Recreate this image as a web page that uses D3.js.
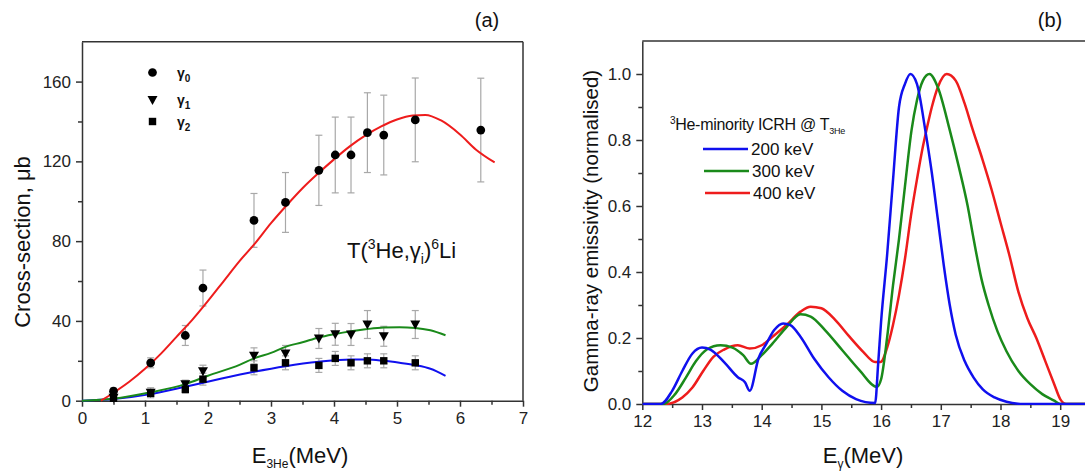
<!DOCTYPE html>
<html>
<head>
<meta charset="utf-8">
<script src="https://cdn.jsdelivr.net/npm/d3@7"></script>
<style>
  html, body { margin: 0; padding: 0; background: #fff; }
  svg { display: block; font-family: "Liberation Sans", Arial, sans-serif; }
</style>
</head>
<body>
<svg id="chart" width="1085" height="475"></svg>
<script>
// ---------- Panel (a): T(3He,gamma)6Li capture cross-sections ----------
const energyA = [0.50, 1.09, 1.64, 1.92, 2.73, 3.23, 3.76, 4.02, 4.27, 4.53, 4.79, 5.29, 6.33];
const gamma0 = [4.8, 19.0, 32.7, 56.5, 90.4, 99.4, 115.5, 123.2, 123.2, 134.4, 133.2, 140.8, 135.7];
const gamma0Err = [1.5, 2.5, 5, 9, 13.5, 15, 17.6, 19, 19, 20, 20, 21, 26];
const energyB = [0.50, 1.09, 1.64, 1.92, 2.73, 3.23, 3.76, 4.02, 4.27, 4.53, 4.79, 5.29];
const gamma1 = [1.5, 4.0, 8.3, 14.8, 22.5, 23.7, 31.2, 33.3, 33.2, 38.2, 32.3, 38.2];
const gamma1Err = [1, 2.5, 2, 3, 4, 4, 5, 5.5, 5.5, 7, 5, 7];
const gamma2 = [1.2, 3.7, 5.7, 10.8, 16.5, 19.0, 17.7, 21.2, 19.0, 20.0, 20.0, 19.0];
const gamma2Err = [1, 2, 2, 3, 3.5, 3.5, 3.5, 3.5, 3.5, 3.5, 3.5, 3.5];

// fitted curves
const fit0X = [0.3, 0.5, 0.75, 1.0, 1.25, 1.5, 1.75, 2.0, 2.25, 2.5, 2.75, 3.0, 3.25, 3.5, 3.75, 4.0, 4.25, 4.5, 4.75, 5.0, 5.25, 5.45, 5.7, 6.0, 6.25, 6.55];
const fit0Y = [0, 4, 9.5, 16, 23.5, 32, 40.5, 50, 60, 70, 79, 89, 98, 106.5, 114, 121, 127.5, 133, 137.5, 141, 143, 143.3, 140.5, 133.5, 126, 119.5];
const fit1X = [0, 0.5, 1.09, 1.64, 2.0, 2.5, 2.73, 3.0, 3.23, 3.5, 3.76, 4.0, 4.27, 4.5, 4.79, 5.04, 5.29, 5.53, 5.77];
const fit1Y = [0, 1.0, 4.2, 8.3, 12.5, 18.0, 21.2, 24.0, 27.0, 29.3, 31.7, 33.3, 34.8, 35.8, 36.7, 36.8, 36.5, 35.3, 32.8];
const fit2X = [0, 0.5, 1.09, 1.64, 2.2, 2.73, 3.23, 3.76, 4.27, 4.53, 4.79, 5.04, 5.29, 5.53, 5.77];
const fit2Y = [0, 0.8, 3.3, 7.0, 11.0, 14.5, 17.3, 19.5, 20.7, 20.7, 20.0, 19.0, 17.8, 16.0, 12.5];

const ticksAX = [0, 1, 2, 3, 4, 5, 6, 7];
const ticksAY = [0, 40, 80, 120, 160];

// ---------- Panel (b): gamma-ray spectra ----------
const spec200X = [12.0, 12.31, 12.5, 12.67, 12.84, 13.0, 13.14, 13.37, 13.6, 13.72, 13.8, 13.95, 14.07, 14.21, 14.36, 14.48, 14.65, 14.88, 15.12, 15.35, 15.58, 15.9, 15.95, 16.0, 16.1, 16.2, 16.3, 16.4, 16.49, 16.6, 16.74, 16.85, 16.95, 17.05, 17.15, 17.25, 17.4, 17.55, 17.7, 17.9, 18.1, 18.4, 20.0];
const spec200Y = [0, 0, 0.04, 0.10, 0.153, 0.171, 0.165, 0.127, 0.081, 0.066, 0.04, 0.14, 0.18, 0.224, 0.244, 0.239, 0.204, 0.137, 0.081, 0.04, 0.015, 0.003, 0.12, 0.25, 0.45, 0.68, 0.90, 0.97, 1.0, 0.97, 0.83, 0.70, 0.56, 0.42, 0.30, 0.21, 0.13, 0.08, 0.045, 0.02, 0.007, 0, 0];
const spec300X = [12.0, 12.35, 12.55, 12.73, 12.9, 13.08, 13.31, 13.51, 13.69, 13.82, 14.0, 14.18, 14.42, 14.65, 14.82, 15.06, 15.35, 15.64, 15.93, 16.0, 16.1, 16.2, 16.3, 16.4, 16.51, 16.6, 16.7, 16.81, 16.95, 17.15, 17.3, 17.45, 17.55, 17.68, 17.8, 17.95, 18.1, 18.3, 18.5, 18.7, 18.9, 19.0, 20.0];
const spec300Y = [0, 0, 0.03, 0.08, 0.13, 0.165, 0.178, 0.171, 0.148, 0.122, 0.148, 0.183, 0.234, 0.272, 0.265, 0.224, 0.163, 0.102, 0.052, 0.075, 0.20, 0.36, 0.50, 0.66, 0.83, 0.92, 0.98, 1.0, 0.96, 0.83, 0.72, 0.60, 0.50, 0.38, 0.30, 0.22, 0.16, 0.10, 0.06, 0.03, 0.01, 0, 0];
const spec400X = [12.0, 12.38, 12.67, 12.84, 13.02, 13.19, 13.37, 13.6, 13.8, 14.0, 14.18, 14.42, 14.65, 14.82, 15.0, 15.23, 15.47, 15.7, 15.9, 15.99, 16.1, 16.2, 16.3, 16.4, 16.5, 16.6, 16.7, 16.76, 16.85, 16.95, 17.1, 17.25, 17.4, 17.52, 17.7, 17.85, 18.0, 18.15, 18.3, 18.45, 18.6, 18.75, 18.9, 19.0, 19.1, 20.0];
const spec400Y = [0, 0, 0.02, 0.05, 0.10, 0.143, 0.165, 0.178, 0.168, 0.178, 0.204, 0.24, 0.28, 0.295, 0.29, 0.255, 0.204, 0.158, 0.127, 0.127, 0.17, 0.24, 0.33, 0.44, 0.57, 0.68, 0.78, 0.83, 0.90, 0.96, 1.0, 0.98, 0.91, 0.84, 0.74, 0.65, 0.55, 0.45, 0.34, 0.26, 0.20, 0.13, 0.06, 0.015, 0, 0];

const ticksBX = [12, 13, 14, 15, 16, 17, 18, 19];
const ticksBY = [0, 0.2, 0.4, 0.6, 0.8, 1.0];
const legendLabels = ["200 keV", "300 keV", "400 keV"];

const svg = d3.select("#chart");
const AXIS = "#333";

// ---------- scales ----------
const xA = d3.scaleLinear().domain([0, 7]).range([82, 523]);
const yA = d3.scaleLinear().domain([0, 180]).range([400.7, 41.7]);
const xB = d3.scaleLinear().domain([12, 20]).range([642.3, 1119.9]);
const yB = d3.scaleLinear().domain([0, 1.1]).range([404, 41]);

function frameAndAxes(g, x, y, xt, yt, xMinor, yMinor, fmtY) {
  const [x0, x1] = x.range();
  const [y0, y1] = y.range();
  // top and right frame lines
  g.append("line").attr("x1", x0).attr("x2", x1).attr("y1", y1).attr("y2", y1)
    .attr("stroke", AXIS).attr("stroke-width", 1.5);
  g.append("line").attr("x1", x1).attr("x2", x1).attr("y1", y1).attr("y2", y0)
    .attr("stroke", AXIS).attr("stroke-width", 1.5);

  const xAxis = d3.axisBottom(x).tickValues(xt).tickSize(6).tickSizeOuter(0).tickPadding(5).tickFormat(d3.format("d"));
  g.append("g").attr("transform", `translate(0,${y0})`).call(xAxis);
  const xMin = d3.axisBottom(x).tickValues(xMinor).tickSize(4).tickSizeOuter(0).tickFormat("");
  g.append("g").attr("transform", `translate(0,${y0})`).call(xMin).select(".domain").remove();

  const yAxis = d3.axisLeft(y).tickValues(yt).tickSize(6).tickSizeOuter(0).tickPadding(5).tickFormat(fmtY);
  g.append("g").attr("transform", `translate(${x0},0)`).call(yAxis);
  const yMin = d3.axisLeft(y).tickValues(yMinor).tickSize(4).tickSizeOuter(0).tickFormat("");
  g.append("g").attr("transform", `translate(${x0},0)`).call(yMin).select(".domain").remove();

  g.selectAll(".domain").attr("stroke", AXIS).attr("stroke-width", 1.5);
  g.selectAll(".tick line").attr("stroke", AXIS).attr("stroke-width", 1.5);
  g.selectAll(".tick text").attr("fill", "#222").style("font-size", "17px")
    .style("font-family", "'Liberation Sans', Arial, sans-serif");
}

// ---------- Panel (a) ----------
const gA = svg.append("g");
frameAndAxes(gA, xA, yA, ticksAX, ticksAY,
  d3.range(0.5, 7, 1), [20, 60, 100, 140], d3.format("d"));

const lineA = d3.line().x(d => xA(d[0])).y(d => yA(d[1])).curve(d3.curveMonotoneX);
const fits = [
  { xs: fit2X, ys: fit2Y, color: "#1010ee" },
  { xs: fit1X, ys: fit1Y, color: "#1a8a1a" },
  { xs: fit0X, ys: fit0Y, color: "#ee1c1c" }
];

// error bars
const errSets = [
  { xs: energyA, ys: gamma0, es: gamma0Err },
  { xs: energyB, ys: gamma1, es: gamma1Err },
  { xs: energyB, ys: gamma2, es: gamma2Err }
];
const gErr = gA.append("g").attr("stroke", "#a8a8a8").attr("stroke-width", 1.2).attr("fill", "none");
errSets.forEach(s => {
  s.xs.forEach((xv, i) => {
    const cx = xA(xv), top = yA(s.ys[i] + s.es[i]), bot = yA(s.ys[i] - s.es[i]);
    gErr.append("line").attr("x1", cx).attr("x2", cx).attr("y1", top).attr("y2", bot);
    gErr.append("line").attr("x1", cx - 3.5).attr("x2", cx + 3.5).attr("y1", top).attr("y2", top);
    gErr.append("line").attr("x1", cx - 3.5).attr("x2", cx + 3.5).attr("y1", bot).attr("y2", bot);
  });
});

fits.forEach(f => {
  gA.append("path").datum(f.xs.map((xv, i) => [xv, f.ys[i]]))
    .attr("d", lineA).attr("fill", "none").attr("stroke", f.color).attr("stroke-width", 2);
});

const circleSym = d3.symbol().type(d3.symbolCircle).size(60);
const squareSym = d3.symbol().type(d3.symbolSquare).size(55);
const triDown = "M-5,-4L5,-4L0,5Z";

gA.append("g").selectAll("path").data(energyA).join("path")
  .attr("d", circleSym).attr("fill", "#000")
  .attr("transform", (d, i) => `translate(${xA(d)},${yA(gamma0[i])})`);
gA.append("g").selectAll("path").data(energyB).join("path")
  .attr("d", triDown).attr("fill", "#000")
  .attr("transform", (d, i) => `translate(${xA(d)},${yA(gamma1[i])})`);
gA.append("g").selectAll("path").data(energyB).join("path")
  .attr("d", squareSym).attr("fill", "#000")
  .attr("transform", (d, i) => `translate(${xA(d)},${yA(gamma2[i])})`);

// legend (a)
const legA = gA.append("g");
[[circleSym(), 72.5], [triDown, 100], [squareSym(), 121.5]].forEach(([p, yy], i) => {
  legA.append("path").attr("d", p).attr("fill", "#000").attr("transform", `translate(152.5,${yy})`);
  const t = legA.append("text").attr("x", 177).attr("y", yy + 5)
    .style("font-size", "14px").style("font-weight", "bold").attr("fill", "#111");
  t.append("tspan").text("γ");
  t.append("tspan").attr("dy", 4).style("font-size", "10px").text(String(i));
});

// reaction label
const rx = gA.append("text").attr("x", 347).attr("y", 258).attr("fill", "#111")
  .style("font-size", "22px");
rx.append("tspan").text("T(");
rx.append("tspan").attr("dy", -9).style("font-size", "14px").text("3");
rx.append("tspan").attr("dy", 9).text("He,γ");
rx.append("tspan").attr("dy", 6).style("font-size", "14px").text("i");
rx.append("tspan").attr("dy", -6).text(")");
rx.append("tspan").attr("dy", -9).style("font-size", "14px").text("6");
rx.append("tspan").attr("dy", 9).text("Li");

// axis titles (a)
gA.append("text").attr("transform", "translate(30,242) rotate(-90)")
  .attr("text-anchor", "middle").attr("fill", "#111").style("font-size", "22px")
  .text("Cross-section, μb");
const xtA = gA.append("text").attr("x", 300).attr("y", 463).attr("text-anchor", "middle")
  .attr("fill", "#111").style("font-size", "22px");
xtA.append("tspan").text("E");
xtA.append("tspan").attr("dy", 5).style("font-size", "12px").text("3He");
xtA.append("tspan").attr("dy", -5).text("(MeV)");

gA.append("text").attr("x", 487).attr("y", 27).attr("text-anchor", "middle")
  .attr("fill", "#111").style("font-size", "20px").text("(a)");

// ---------- Panel (b) ----------
const gB = svg.append("g");
frameAndAxes(gB, xB, yB, ticksBX, ticksBY,
  d3.range(12.5, 20, 1), [0.1, 0.3, 0.5, 0.7, 0.9], d3.format(".1f"));

svg.append("defs").append("clipPath").attr("id", "clipB")
  .append("rect").attr("x", 642.3).attr("y", 41).attr("width", 478).attr("height", 364);

const lineB = d3.line().x(d => xB(d[0])).y(d => yB(d[1])).curve(d3.curveMonotoneX);
const spectra = [
  { xs: spec400X, ys: spec400Y, color: "#ee1c1c" },
  { xs: spec300X, ys: spec300Y, color: "#1a8a1a" },
  { xs: spec200X, ys: spec200Y, color: "#1010ee" }
];
const gCurves = gB.append("g").attr("clip-path", "url(#clipB)");
spectra.forEach(s => {
  gCurves.append("path").datum(s.xs.map((xv, i) => [xv, s.ys[i]]))
    .attr("d", lineB).attr("fill", "none").attr("stroke", s.color)
    .attr("stroke-width", 2.5).attr("stroke-linejoin", "round");
});

// legend (b)
const legB = gB.append("g");
const lt = legB.append("text").attr("x", 670).attr("y", 130).attr("fill", "#111")
  .style("font-size", "16px").style("letter-spacing", "-0.3px");
lt.append("tspan").attr("dy", -6).style("font-size", "10px").text("3");
lt.append("tspan").attr("dy", 6).text("He-minority ICRH @ T");
lt.append("tspan").attr("dy", 4).style("font-size", "9px").text("3He");
const legColors = ["#1010ee", "#1a8a1a", "#ee1c1c"];
const legY = [149, 171, 193];
const legX = [703, 704, 705];
legendLabels.forEach((lab, i) => {
  legB.append("line").attr("x1", legX[i]).attr("x2", legX[i] + 45)
    .attr("y1", legY[i]).attr("y2", legY[i])
    .attr("stroke", legColors[i]).attr("stroke-width", 2.5);
  legB.append("text").attr("x", legX[i] + 48).attr("y", legY[i] + 6)
    .attr("fill", "#111").style("font-size", "17px").text(lab);
});

// axis titles (b)
gB.append("text").attr("transform", "translate(598,231) rotate(-90)")
  .attr("text-anchor", "middle").attr("fill", "#111").style("font-size", "20.5px")
  .text("Gamma-ray emissivity (normalised)");
const xtB = gB.append("text").attr("x", 863).attr("y", 463).attr("text-anchor", "middle")
  .attr("fill", "#111").style("font-size", "22px");
xtB.append("tspan").text("E");
xtB.append("tspan").attr("dy", 5).style("font-size", "12px").text("γ");
xtB.append("tspan").attr("dy", -5).text("(MeV)");

gB.append("text").attr("x", 1050).attr("y", 27).attr("text-anchor", "middle")
  .attr("fill", "#111").style("font-size", "20px").text("(b)");
</script>
</body>
</html>
